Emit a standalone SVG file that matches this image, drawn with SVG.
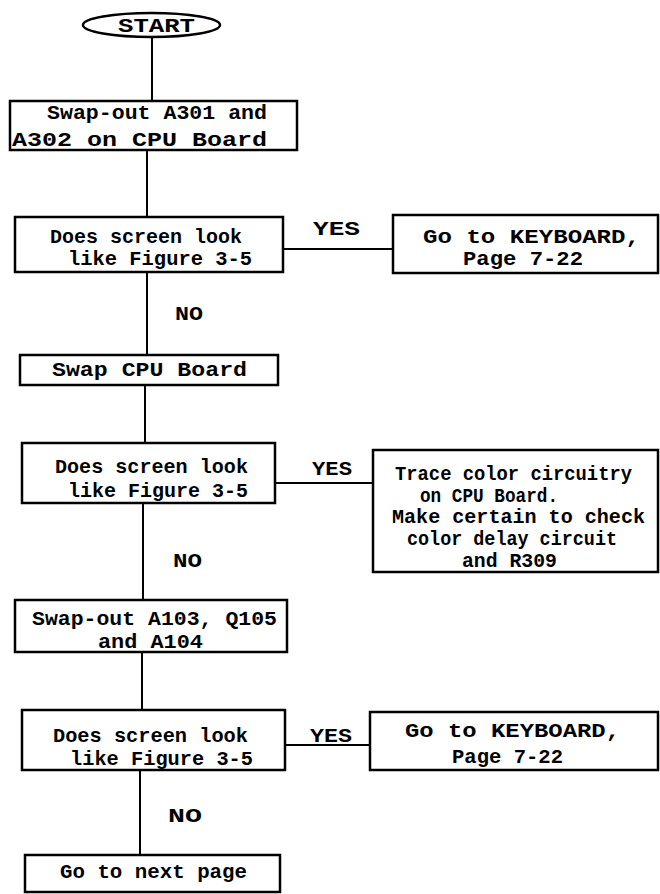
<svg xmlns="http://www.w3.org/2000/svg" width="660" height="894" viewBox="0 0 660 894">
<style>
.box{fill:#fff;stroke:#000;stroke-width:2.5}
.ln{stroke:#000;stroke-width:2;fill:none}
text{font-family:"Liberation Mono","Courier New",monospace;font-weight:bold;font-size:21px;fill:#000}
</style>
<rect width="660" height="894" fill="#fff"/>
<g id="connectors">
<line class="ln" x1="152" y1="37" x2="152" y2="101"/>
<line class="ln" x1="147" y1="150" x2="147" y2="217"/>
<line class="ln" x1="283" y1="249" x2="393" y2="249"/>
<line class="ln" x1="147" y1="272" x2="147" y2="355"/>
<line class="ln" x1="145" y1="385" x2="145" y2="443"/>
<line class="ln" x1="275" y1="483" x2="373" y2="483"/>
<line class="ln" x1="143" y1="503" x2="143" y2="600"/>
<line class="ln" x1="142" y1="652" x2="142" y2="710"/>
<line class="ln" x1="285" y1="745" x2="370" y2="745"/>
<line class="ln" x1="140" y1="770" x2="140" y2="855"/>
<text x="313" y="235" textLength="47" lengthAdjust="spacingAndGlyphs">YES</text>
<text x="175" y="320" textLength="28" lengthAdjust="spacingAndGlyphs">NO</text>
<text x="312" y="475" textLength="40" lengthAdjust="spacingAndGlyphs">YES</text>
<text x="173" y="567" textLength="29" lengthAdjust="spacingAndGlyphs">NO</text>
<text x="310" y="742" textLength="42" lengthAdjust="spacingAndGlyphs">YES</text>
<text x="168" y="822" textLength="34" lengthAdjust="spacingAndGlyphs">NO</text>
</g>
<g id="start">
<ellipse class="box" cx="151.5" cy="25" rx="68.5" ry="12"/>
<text x="118" y="32" textLength="77" lengthAdjust="spacingAndGlyphs">START</text>
</g>
<g id="swap-a301">
<rect class="box" x="10" y="101" width="287" height="49"/>
<text x="47" y="119" textLength="220" lengthAdjust="spacingAndGlyphs">Swap-out A301 and</text>
<text x="12" y="146" textLength="255" lengthAdjust="spacingAndGlyphs">A302 on CPU Board</text>
</g>
<g id="decision1">
<rect class="box" x="15" y="217" width="268" height="55"/>
<text x="50" y="243" textLength="192" lengthAdjust="spacingAndGlyphs">Does screen look</text>
<text x="68" y="265" textLength="184" lengthAdjust="spacingAndGlyphs">like Figure 3-5</text>
</g>
<g id="keyboard1">
<rect class="box" x="393" y="215" width="265" height="58"/>
<text x="423" y="243" textLength="217" lengthAdjust="spacingAndGlyphs">Go to KEYBOARD,</text>
<text x="463" y="265" textLength="120" lengthAdjust="spacingAndGlyphs">Page 7-22</text>
</g>
<g id="swap-cpu">
<rect class="box" x="20" y="355" width="258" height="30"/>
<text x="52" y="376" textLength="195" lengthAdjust="spacingAndGlyphs">Swap CPU Board</text>
</g>
<g id="decision2">
<rect class="box" x="22" y="443" width="253" height="60"/>
<text x="55" y="473" textLength="193" lengthAdjust="spacingAndGlyphs">Does screen look</text>
<text x="68" y="497" textLength="180" lengthAdjust="spacingAndGlyphs">like Figure 3-5</text>
</g>
<g id="trace-color">
<rect class="box" x="373" y="450" width="285" height="122"/>
<text x="395" y="480" textLength="237" lengthAdjust="spacingAndGlyphs">Trace color circuitry</text>
<text x="420" y="502" textLength="138" lengthAdjust="spacingAndGlyphs">on CPU Board.</text>
<text x="392" y="523" textLength="253" lengthAdjust="spacingAndGlyphs">Make certain to check</text>
<text x="407" y="545" textLength="210" lengthAdjust="spacingAndGlyphs">color delay circuit</text>
<text x="462" y="567" textLength="95" lengthAdjust="spacingAndGlyphs">and R309</text>
</g>
<g id="swap-a103">
<rect class="box" x="15" y="600" width="272" height="52"/>
<text x="32" y="625" textLength="245" lengthAdjust="spacingAndGlyphs">Swap-out A103, Q105</text>
<text x="98" y="648" textLength="105" lengthAdjust="spacingAndGlyphs">and A104</text>
</g>
<g id="decision3">
<rect class="box" x="22" y="710" width="263" height="60"/>
<text x="53" y="742" textLength="195" lengthAdjust="spacingAndGlyphs">Does screen look</text>
<text x="70" y="765" textLength="183" lengthAdjust="spacingAndGlyphs">like Figure 3-5</text>
</g>
<g id="keyboard2">
<rect class="box" x="370" y="712" width="288" height="58"/>
<text x="405" y="737" textLength="215" lengthAdjust="spacingAndGlyphs">Go to KEYBOARD,</text>
<text x="452" y="763" textLength="111" lengthAdjust="spacingAndGlyphs">Page 7-22</text>
</g>
<g id="next-page">
<rect class="box" x="25" y="855" width="255" height="37"/>
<text x="60" y="878" textLength="187" lengthAdjust="spacingAndGlyphs">Go to next page</text>
</g>
</svg>
